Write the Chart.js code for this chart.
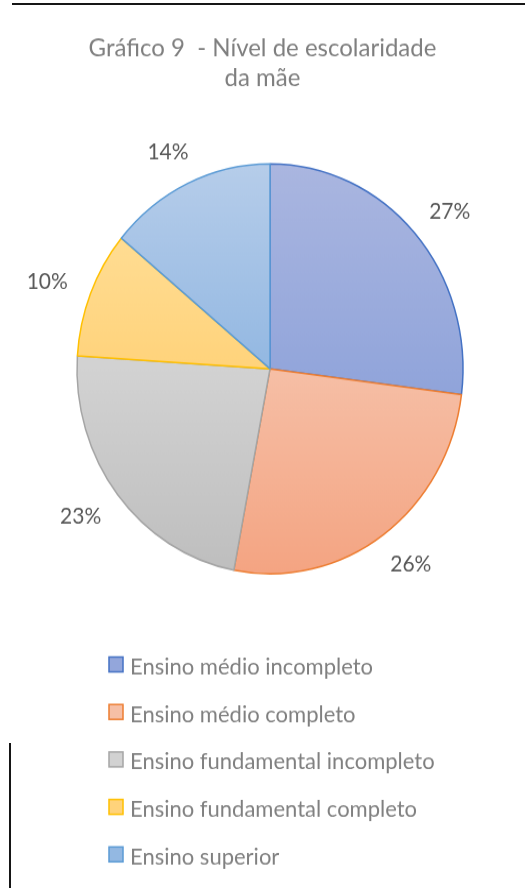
<!DOCTYPE html>
<html lang="pt-BR">
<head>
<meta charset="utf-8">
<title>Gráfico 9 - Nível de escolaridade da mãe</title>
<script src="https://cdn.jsdelivr.net/npm/chart.js@4.4.1/dist/chart.umd.min.js"></script>
<style>
  html,body{margin:0;padding:0;background:#fff;}
  body{width:525px;height:888px;position:relative;overflow:hidden;}
  .rule-top{position:absolute;left:12px;right:0;top:3px;height:2px;background:#161616;}
  .rule-left{position:absolute;left:9px;top:743px;bottom:0;width:2px;background:#161616;}
  /* the sheet is printed slightly taller than wide, so the whole chart is stretched a bit */
  #wrap{position:absolute;left:0;top:0;width:525px;height:836px;transform:scaleY(1.0622);transform-origin:0 0;}
</style>
</head>
<body>
<div class="rule-top"></div>
<div id="wrap"><canvas id="chart" width="525" height="836"></canvas></div>
<div class="rule-left"></div>
<script>
const byId = (id)=>document.getElementById(id);

// ----- data -----
const categories = [
  "Ensino médio incompleto",
  "Ensino médio completo",
  "Ensino fundamental incompleto",
  "Ensino fundamental completo",
  "Ensino superior"
];
const shares = [27, 26, 23, 10, 14];
const titleLines = ["Gráfico 9  - Nível de escolaridade", "da mãe"];

// ----- look -----
const FONT = "Lato, 'Open Sans', sans-serif";
const borderColors = ["#4472c4","#ed7d31","#a5a5a5","#ffc000","#5b9bd5"];
const fillStops = [            // top / middle / bottom of the pie
  ["#aab6e0","#93a6db","#7b93d4"],
  ["#f9d3c2","#f6bfa6","#f4a482"],
  ["#dedede","#d2d2d2","#bebebe"],
  ["#ffe2a0","#ffd37b","#ffc95c"],
  ["#b6cdea","#93b8e2","#6fa3da"]
];
const PIE_RADIUS = 193;
const PIE_SHIFT_X = 7.5;
const LABEL_GAP = 26;
const LEGEND_LEFT = 109, LEGEND_TOP = 31, LEGEND_ROW = 44.7;

function sliceGradient(c){
  const chart = c.chart, area = chart.chartArea;
  const s = fillStops[c.dataIndex % fillStops.length];
  if(!area) return s[1];
  const cy = (area.top + area.bottom)/2;
  const g = chart.ctx.createLinearGradient(0, cy-PIE_RADIUS, 0, cy+PIE_RADIUS);
  g.addColorStop(0, s[0]); g.addColorStop(0.5, s[1]); g.addColorStop(1, s[2]);
  return g;
}

// move the pie a little right of the page centre (title stays centred)
const pieShift = {
  id:"pieShift",
  beforeDatasetsDraw(chart){ chart.ctx.save(); chart.ctx.translate(PIE_SHIFT_X, 0); },
  afterDatasetsDraw(chart){ chart.ctx.restore(); }
};

// percentages just outside each slice
const sliceLabels = {
  id:"sliceLabels",
  afterDraw(chart){
    const ctx = chart.ctx;
    const arcs = chart.getDatasetMeta(0).data;
    ctx.save();
    ctx.font = `21px ${FONT}`;
    ctx.fillStyle = "#595959";
    ctx.textAlign = "center"; ctx.textBaseline = "middle";
    arcs.forEach((arc,i)=>{
      const p = arc.getProps(["x","y","startAngle","endAngle","outerRadius"], true);
      const mid = (p.startAngle + p.endAngle)/2;
      const txt = shares[i] + "%";
      const w = ctx.measureText(txt).width;
      const x = p.x + PIE_SHIFT_X + Math.cos(mid)*(p.outerRadius + LABEL_GAP + w/2);
      const y = p.y + Math.sin(mid)*(p.outerRadius + LABEL_GAP + 7);
      ctx.fillText(txt, x, y + 1);
    });
    ctx.restore();
  }
};

// one legend entry per row under the pie
const listLegend = {
  id:"listLegend",
  afterDraw(chart){
    const ctx = chart.ctx, area = chart.chartArea;
    ctx.save();
    ctx.font = `22px ${FONT}`;
    ctx.textAlign = "left"; ctx.textBaseline = "middle";
    categories.forEach((name,i)=>{
      const yMid = area.bottom + LEGEND_TOP + i*LEGEND_ROW;
      ctx.fillStyle = fillStops[i][1];
      ctx.fillRect(LEGEND_LEFT, yMid-9.5, 14, 14);
      ctx.strokeStyle = borderColors[i]; ctx.lineWidth = 1.5;
      ctx.strokeRect(LEGEND_LEFT, yMid-9.5, 14, 14);
      ctx.fillStyle = "#808080";
      ctx.fillText(name, LEGEND_LEFT + 21, yMid);
    });
    ctx.restore();
  }
};

Chart.defaults.font.family = FONT;

new Chart(byId("chart"), {
  type: "pie",
  data: {
    labels: categories,
    datasets: [{
      data: shares,
      backgroundColor: sliceGradient,
      borderColor: borderColors,
      borderWidth: 1.5
    }]
  },
  options: {
    responsive: false,
    animation: false,
    radius: PIE_RADIUS,
    layout: { padding: { top: 0, left: 0, right: 0, bottom: 239 } },
    plugins: {
      legend: { display: false },
      tooltip: { enabled: false },
      title: {
        display: true,
        text: titleLines,
        color: "#7f7f7f",
        font: { family: FONT, size: 24, weight: "normal", lineHeight: 1.175 },
        padding: { top: 31, bottom: 10 }
      }
    }
  },
  plugins: [pieShift, sliceLabels, listLegend]
});
</script>
</body>
</html>
